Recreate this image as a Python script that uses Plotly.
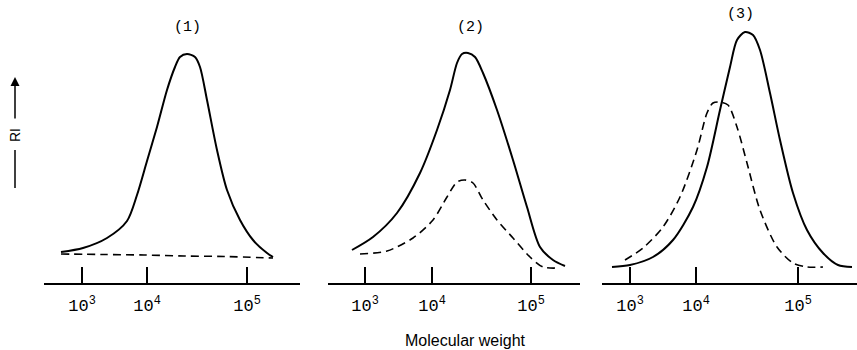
import plotly.graph_objects as go

# ---- Data (elution position along each panel's axis, RI response) ----
# Panel (1)
p1_solid_x = [17, 39, 63, 83, 93, 103, 113, 123, 131, 136, 143, 151, 156, 163, 173, 183, 196, 209, 223, 229]
p1_solid_y = [31, 35, 45, 62, 88, 122, 156, 193, 216, 226, 229, 226, 216, 183, 133, 93, 63, 43, 30, 26]
p1_dash_x = [17, 60, 100, 140, 180, 229]
p1_dash_y = [29, 28.5, 28, 27, 26.5, 25]

# Panel (2)
p2_solid_x = [24, 45, 69, 92, 109, 122, 129, 134, 140, 147, 155, 169, 185, 199, 212, 225, 237]
p2_solid_y = [33, 46, 70, 110, 153, 193, 220, 229, 230, 226, 210, 173, 123, 76, 36, 23, 17]
p2_dash_x = [32, 59, 85, 105, 119, 129, 137, 145, 155, 169, 185, 202, 215, 230]
p2_dash_y = [29, 32, 45, 63, 86, 101, 103, 100, 83, 63, 45, 26, 16, 15]

# Panel (3)
p3_solid_x = [10, 28, 51, 71, 91, 105, 118, 128, 135, 143, 151, 158, 168, 178, 191, 205, 221, 236, 250]
p3_solid_y = [16, 18, 26, 43, 76, 116, 173, 216, 243, 251, 248, 233, 190, 143, 90, 53, 30, 18, 16]
p3_dash_x = [23, 41, 61, 78, 95, 105, 111, 118, 126, 135, 145, 158, 175, 191, 205, 221]
p3_dash_y = [23, 35, 56, 86, 133, 170, 180, 181, 178, 156, 120, 73, 36, 20, 16, 16]

# Molecular-weight calibration: axis positions of 10^3, 10^4, 10^5 per panel
tick_text = ["10<sup>3</sup>", "10<sup>4</sup>", "10<sup>5</sup>"]
p1_ticks = [38, 103, 203]
p2_ticks = [37, 104, 203]
p3_ticks = [28, 94, 196]

panel_titles = ["(1)", "(2)", "(3)"]
x_label = "Molecular weight"
y_label = "RI"

# ---- Figure ----
W, H = 857, 350
fig = go.Figure()

panels = [
    (p1_solid_x, p1_solid_y, p1_dash_x, p1_dash_y, p1_ticks, (44, 300), ""),
    (p2_solid_x, p2_solid_y, p2_dash_x, p2_dash_y, p2_ticks, (328, 580), "2"),
    (p3_solid_x, p3_solid_y, p3_dash_x, p3_dash_y, p3_ticks, (602, 857), "3"),
]

base_px = 283
top_px = 20
y_range = [0, base_px - top_px]

for sx, sy, dx, dy, ticks, (x0, x1), suf in panels:
    xa = "x" + suf
    ya = "y" + suf
    fig.add_trace(go.Scatter(x=sx, y=sy, mode="lines", xaxis=xa, yaxis=ya,
                             line=dict(color="black", width=2, shape="spline", smoothing=0.8),
                             showlegend=False, hoverinfo="skip"))
    fig.add_trace(go.Scatter(x=dx, y=dy, mode="lines", xaxis=xa, yaxis=ya,
                             line=dict(color="black", width=1.6, dash="8px,5px", shape="spline", smoothing=0.8),
                             showlegend=False, hoverinfo="skip"))
    fig.layout["xaxis" + suf] = dict(
        domain=[x0 / W, x1 / W], range=[0, x1 - x0], anchor=ya,
        showline=True, linecolor="black", linewidth=1.5,
        ticks="inside", ticklen=16, tickwidth=1.5, tickcolor="black",
        tickvals=ticks, ticktext=tick_text, ticklabelstandoff=6,
        tickfont=dict(family="Liberation Mono", size=17, color="black"),
        showgrid=False, zeroline=False, fixedrange=True,
    )
    fig.layout["yaxis" + suf] = dict(
        domain=[(H - base_px) / H, (H - top_px) / H], range=y_range, anchor=xa,
        visible=False, showgrid=False, zeroline=False, fixedrange=True,
    )

annotations = []
for txt, (px, py) in zip(panel_titles, [(187, 27), (470, 27), (740, 15)]):
    annotations.append(dict(text=txt, x=px / W, y=1 - py / H, xref="paper", yref="paper",
                            showarrow=False, xanchor="center", yanchor="middle",
                            font=dict(family="Liberation Mono", size=15, color="black")))
annotations.append(dict(text=x_label, x=465 / W, y=1 - 340 / H, xref="paper", yref="paper",
                        showarrow=False, xanchor="center", yanchor="middle",
                        font=dict(family="Liberation Sans", size=16, color="black")))
annotations.append(dict(text=y_label, x=15 / W, y=1 - 135 / H, xref="paper", yref="paper",
                        showarrow=False, textangle=-90, xanchor="center", yanchor="middle",
                        font=dict(family="Liberation Sans", size=14, color="black")))
# arrow up
annotations.append(dict(text="", x=15 / W, y=1 - 77 / H, xref="paper", yref="paper",
                        ax=0, ay=43, axref="pixel", ayref="pixel",
                        showarrow=True, arrowhead=2, arrowsize=1.2, arrowwidth=1.5, arrowcolor="black"))

shapes = [dict(type="line", xref="paper", yref="paper", x0=15 / W, x1=15 / W,
               y0=1 - 150 / H, y1=1 - 188 / H, line=dict(color="black", width=1.5))]

fig.update_layout(
    width=W, height=H, margin=dict(l=0, r=0, t=0, b=0),
    paper_bgcolor="white", plot_bgcolor="white",
    annotations=annotations, shapes=shapes, showlegend=False,
)

fig.write_html("out.html")
